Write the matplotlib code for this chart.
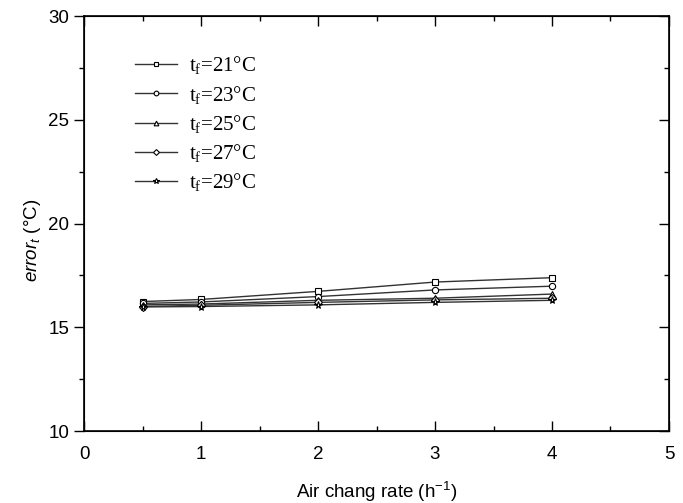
import matplotlib
matplotlib.use("Agg")
import matplotlib.pyplot as plt
from matplotlib.ticker import MultipleLocator

plt.rcParams['font.family'] = ['Liberation Sans', 'DejaVu Sans']
plt.rcParams['mathtext.fontset'] = 'custom'
plt.rcParams['mathtext.rm'] = 'Liberation Serif'
plt.rcParams['mathtext.it'] = 'Liberation Sans:italic'
plt.rcParams['mathtext.sf'] = 'Liberation Sans'

x = [0.5, 1, 2, 3, 4]
tf21 = [16.24, 16.34, 16.73, 17.18, 17.39]
tf23 = [16.15, 16.22, 16.48, 16.8, 16.98]
tf25 = [16.08, 16.12, 16.3, 16.4, 16.6]
tf27 = [16.0, 16.06, 16.2, 16.32, 16.4]
tf29 = [15.98, 16.0, 16.08, 16.2, 16.3]
labels = ['21', '23', '25', '27', '29']
markers = ['s', 'o', '^', 'D', '*']
sizes = [4.5, 4.5, 4.5, 4, 5.5]

fig = plt.figure(figsize=(6.83, 5.03), dpi=100)
ax = fig.add_axes([0.123, 0.1431, 0.8565, 0.825])

for ys, lab, m, s in zip([tf21, tf23, tf25, tf27, tf29], labels, markers, sizes):
    ax.plot(x, ys, color='#333333', lw=1.0, marker=m, ms=s, mfc='white',
            mec='black', mew=0.8, label=r'$\mathregular{t_f}$=' + lab + '°C')

ax.set_xlim(0, 5)
ax.set_ylim(10, 30)
ax.xaxis.set_major_locator(MultipleLocator(1))
ax.xaxis.set_minor_locator(MultipleLocator(0.5))
ax.yaxis.set_major_locator(MultipleLocator(5))
ax.yaxis.set_minor_locator(MultipleLocator(2.5))
ax.tick_params(axis='both', which='both', labelsize=13.5, top=True, right=True)
ax.tick_params(axis='x', which='both', direction='in', pad=11)
ax.tick_params(axis='y', which='both', direction='out')
ax.tick_params(which='major', length=7, width=1)
ax.tick_params(which='minor', length=3.5, width=1)
for sp in ax.spines.values():
    sp.set_linewidth(1.2)

# right-axis ticks inward
ax2 = ax.twinx()
ax2.set_ylim(10, 30)
ax2.yaxis.set_major_locator(MultipleLocator(5))
ax2.yaxis.set_minor_locator(MultipleLocator(2.5))
ax2.tick_params(axis='y', which='both', direction='in', labelright=False)
ax2.tick_params(which='major', length=7, width=1)
ax2.tick_params(which='minor', length=3.5, width=1)
ax.tick_params(axis='y', right=False)

ax.set_xlabel(r'Air chang rate (h$\mathsf{^{-1}}$)', fontsize=13.5, labelpad=12)
ax.set_ylabel(r'$\it{error}_{\it{t}}$' + ' (°C)', fontsize=13.5)
ax.yaxis.set_label_coords(-0.07, 0.46)

leg = ax.legend(loc='upper left', bbox_to_anchor=(0.087, 0.908), frameon=False,
                prop={'family': ['Liberation Serif', 'DejaVu Serif'], 'size': 15},
                borderpad=0, borderaxespad=0,
                handlelength=2.0, labelspacing=0.35, handletextpad=0.6, markerscale=0.75)
for line in leg.get_lines():
    line.set_linewidth(1.0)

fig.savefig('out.png', dpi=100)
